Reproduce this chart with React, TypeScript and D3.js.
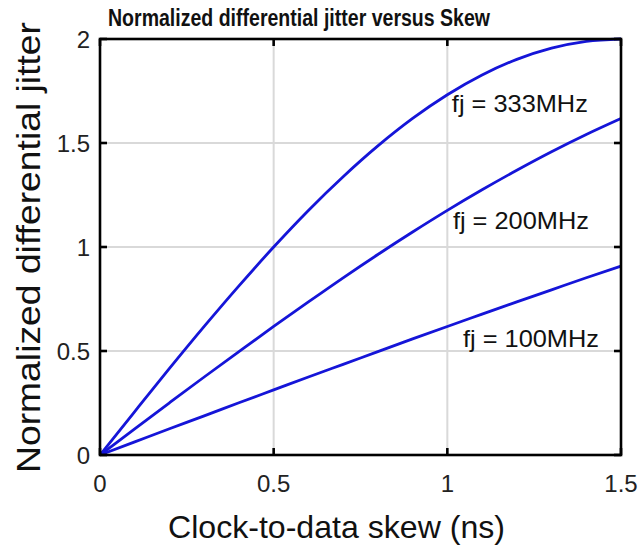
import React from "react";
import * as d3 from "d3";

const skew = [0, 0.1, 0.2, 0.3, 0.4, 0.5, 0.6, 0.7, 0.8, 0.9, 1.0, 1.1, 1.2, 1.3, 1.4, 1.5];
const jitter333 = [0, 0.209, 0.416, 0.618, 0.813, 1.0, 1.176, 1.338, 1.486, 1.618, 1.732, 1.827, 1.902, 1.956, 1.989, 2.0];
const jitter200 = [0, 0.126, 0.251, 0.375, 0.497, 0.618, 0.736, 0.852, 0.964, 1.072, 1.176, 1.275, 1.369, 1.458, 1.541, 1.618];
const jitter100 = [0, 0.063, 0.126, 0.188, 0.251, 0.313, 0.375, 0.436, 0.497, 0.558, 0.618, 0.677, 0.736, 0.794, 0.852, 0.908];
const seriesLabels = ["fj = 333MHz", "fj = 200MHz", "fj = 100MHz"];
const labelAnchors = [[1.013, 1.649], [1.016, 1.087], [1.045, 0.521]];
const xTicks = [0, 0.5, 1, 1.5];
const yTicks = [0, 0.5, 1, 1.5, 2];
const xTickLabels = ["0", "0.5", "1", "1.5"];
const yTickLabels = ["0", "0.5", "1", "1.5", "2"];

export default function App() {
  const W = 640, H = 550;
  const left = 100, right = 621, top = 39, bottom = 455;
  const x = d3.scaleLinear().domain([0, 1.5]).range([left, right]);
  const y = d3.scaleLinear().domain([0, 2]).range([bottom, top]);
  const line = d3.line<number>().x((_, i) => x(skew[i])).y((d) => y(d)).curve(d3.curveMonotoneX);
  const series = [jitter333, jitter200, jitter100];
  const font = "'Liberation Sans', Arial, Helvetica, sans-serif";
  return (
    <svg width={W} height={H} style={{ position: "absolute", left: 0, top: 0, background: "#fff" }} fontFamily={font}>
      <rect x={0} y={0} width={W} height={H} fill="#fff" />
      {xTicks.map((t) => (
        <line key={"gx" + t} x1={x(t)} x2={x(t)} y1={top} y2={bottom} stroke="#d9d9d9" strokeWidth={2} />
      ))}
      {yTicks.map((t) => (
        <line key={"gy" + t} x1={left} x2={right} y1={y(t)} y2={y(t)} stroke="#d9d9d9" strokeWidth={2} />
      ))}
      {series.map((s, i) => (
        <path key={"s" + i} d={line(s) || ""} fill="none" stroke="#1515d8" strokeWidth={2.8} />
      ))}
      <rect x={left} y={top} width={right - left} height={bottom - top} fill="none" stroke="#000" strokeWidth={2.6} />
      {xTicks.map((t) => (
        <g key={"tx" + t}>
          <line x1={x(t)} x2={x(t)} y1={bottom} y2={bottom - 7} stroke="#000" strokeWidth={2.6} />
          <line x1={x(t)} x2={x(t)} y1={top} y2={top + 7} stroke="#000" strokeWidth={2.6} />
        </g>
      ))}
      {yTicks.map((t) => (
        <g key={"ty" + t}>
          <line x1={left} x2={left + 7} y1={y(t)} y2={y(t)} stroke="#000" strokeWidth={2.6} />
          <line x1={right} x2={right - 7} y1={y(t)} y2={y(t)} stroke="#000" strokeWidth={2.6} />
        </g>
      ))}
      {xTicks.map((t, i) => (
        <text key={"lx" + t} x={x(t)} y={492} textAnchor="middle" fontSize={24} fill="#222">{xTickLabels[i]}</text>
      ))}
      {yTicks.map((t, i) => (
        <text key={"ly" + t} x={90} y={y(t) + 9} textAnchor="end" fontSize={24} fill="#222">{yTickLabels[i]}</text>
      ))}
      <text x={336.5} y={538} textAnchor="middle" fontSize={32} fill="#111" textLength={337} lengthAdjust="spacingAndGlyphs">Clock-to-data skew (ns)</text>
      <text transform={`translate(40,247.5) rotate(-90)`} textAnchor="middle" fontSize={34} fill="#111" textLength={451} lengthAdjust="spacingAndGlyphs">Normalized differential jitter</text>
      <text x={299} y={26} textAnchor="middle" fontSize={23} fontWeight="bold" fill="#111" textLength={382} lengthAdjust="spacingAndGlyphs">Normalized differential jitter versus Skew</text>
      {seriesLabels.map((l, i) => (
        <text key={l} x={x(labelAnchors[i][0])} y={y(labelAnchors[i][1])} fontSize={24} fill="#111" textLength={136} lengthAdjust="spacingAndGlyphs">{l}</text>
      ))}
    </svg>
  );
}
